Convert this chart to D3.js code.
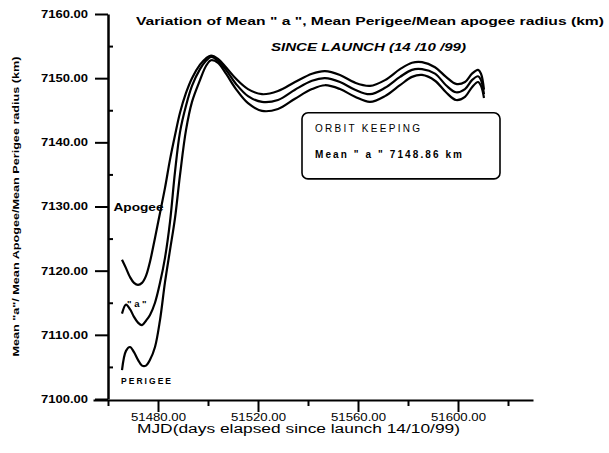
<!DOCTYPE html>
<html>
<head>
<meta charset="utf-8">
<script src="https://cdn.jsdelivr.net/npm/d3@7"></script>
<style>
  body { margin: 0; background: #fff; }
  svg { display: block; font-family: "Liberation Sans", Arial, sans-serif; }
</style>
</head>
<body>
<div id="chart"></div>
<script>
// MJD sample points
const mjd = [51465.6, 51467.2, 51468.8, 51470.4, 51472.0, 51473.6, 51475.2, 51476.8, 51478.8, 51480.8,
  51482.8, 51484.8, 51486.8, 51488.8, 51491.2, 51493.6, 51496.8, 51499.2, 51501.2, 51504.0,
  51507.2, 51511.2, 51516.0, 51521.6, 51528.0, 51534.8, 51541.6, 51546.8, 51552.8, 51558.8,
  51564.8, 51570.8, 51576.8, 51581.6, 51585.6, 51590.8, 51595.2, 51599.2, 51602.8, 51605.6,
  51608.0, 51609.2, 51610.4];

const apogee = [7121.7, 7120.4, 7119.0, 7118.1, 7117.8, 7118.1, 7119.2, 7121.4, 7125.1, 7129.0,
  7132.9, 7137.3, 7141.1, 7144.6, 7147.7, 7150.0, 7152.1, 7153.1, 7153.5, 7153.0,
  7151.7, 7149.9, 7148.3, 7147.5, 7148.0, 7149.4, 7150.7, 7151.1, 7150.5, 7149.3,
  7148.8, 7149.7, 7151.4, 7152.4, 7152.5, 7151.7, 7150.2, 7149.1, 7149.4, 7150.7,
  7151.3, 7150.7, 7148.2];

const meanA = [7113.3, 7114.7, 7114.0, 7112.8, 7111.9, 7111.5, 7112.2, 7113.1, 7115.0, 7118.1,
  7122.0, 7127.6, 7135.4, 7141.6, 7145.7, 7148.8, 7151.4, 7152.7, 7153.3, 7152.7,
  7151.3, 7149.1, 7147.2, 7146.3, 7146.6, 7148.2, 7149.6, 7150.0, 7149.4, 7148.2,
  7147.5, 7148.5, 7150.2, 7151.3, 7151.4, 7150.7, 7148.9, 7147.8, 7148.3, 7149.7,
  7150.3, 7149.7, 7147.5];

const perigee = [7104.5, 7107.5, 7108.1, 7107.3, 7106.1, 7105.2, 7105.2, 7106.1, 7108.1, 7112.3,
  7118.2, 7123.2, 7128.2, 7134.9, 7141.9, 7146.3, 7149.7, 7151.9, 7152.8, 7152.4,
  7150.7, 7148.3, 7146.1, 7144.9, 7145.2, 7146.8, 7148.3, 7148.9, 7148.3, 7147.1,
  7146.3, 7147.2, 7148.9, 7150.2, 7150.5, 7149.6, 7147.8, 7146.6, 7147.1, 7148.6,
  7149.4, 7148.8, 7146.9];

const yTicks = [7100, 7110, 7120, 7130, 7140, 7150, 7160];
const yMinor = [7105, 7115, 7125, 7135, 7145, 7155];
const xTicks = [51480, 51520, 51560, 51600];
const xMinor = [51460, 51500, 51540, 51580, 51620];

const width = 609;
const height = 453;

const svg = d3.select('#chart')
    .append('svg')
    .attr('width', width)
    .attr('height', height);

const x = d3.scaleLinear().domain([51454, 51630]).range([93, 533]);
const y = d3.scaleLinear().domain([7100, 7160]).range([399, 14]);

// Y axis
const yAxis = svg.append('g')
    .attr('transform', `translate(${x(51460)},0)`)
    .call(d3.axisLeft(y).tickValues(yTicks).tickSize(13).tickSizeOuter(0)
        .tickFormat(d3.format('.2f')));
yAxis.select('.domain').attr('stroke-width', 2.5);
yAxis.selectAll('.tick line').attr('stroke-width', 2);
yAxis.selectAll('.tick text')
    .attr('x', -20)
    .attr('textLength', 47)
    .attr('lengthAdjust', 'spacingAndGlyphs')
    .style('font-size', '10.5px')
    .style('font-weight', 'bold')
    .style('font-family', '"Liberation Sans", Arial, sans-serif');

svg.append('g')
    .attr('transform', `translate(${x(51460)},0)`)
    .call(d3.axisRight(y).tickValues(yMinor).tickSize(5).tickFormat(''))
    .call(g => g.select('.domain').remove())
    .selectAll('.tick line').attr('stroke-width', 2);

// X axis
const xAxis = svg.append('g')
    .attr('transform', `translate(0,${y(7100) + 1})`)
    .call(d3.axisBottom(x).tickValues(xTicks).tickSize(12).tickSizeOuter(0)
        .tickFormat(d3.format('.2f')));
xAxis.select('.domain').attr('stroke-width', 2);
xAxis.selectAll('.tick line').attr('stroke-width', 2);
xAxis.selectAll('.tick text')
    .attr('y', 14)
    .attr('textLength', 55)
    .attr('lengthAdjust', 'spacingAndGlyphs')
    .style('font-size', '10.5px')
    .style('font-family', '"Liberation Sans", Arial, sans-serif');

svg.append('g')
    .attr('transform', `translate(0,${y(7100) + 1})`)
    .call(d3.axisBottom(x).tickValues(xMinor).tickSize(6).tickFormat(''))
    .call(g => g.select('.domain').remove())
    .selectAll('.tick line').attr('stroke-width', 2);

// Curves
const line = d3.line()
    .x((d, i) => x(mjd[i]))
    .y(d => y(d))
    .curve(d3.curveCatmullRom.alpha(0.5));

[apogee, meanA, perigee].forEach(series => {
  svg.append('path')
      .datum(series)
      .attr('d', line)
      .attr('fill', 'none')
      .attr('stroke', '#000')
      .attr('stroke-width', 2.2);
});

// Curve labels
svg.append('text')
    .attr('x', x(51462.2))
    .attr('y', y(7129.3))
    .attr('textLength', 50)
    .attr('lengthAdjust', 'spacingAndGlyphs')
    .style('font-size', '10.5px')
    .style('font-weight', 'bold')
    .text('Apogee');

svg.append('text')
    .attr('x', x(51467.6))
    .attr('y', y(7114.3))
    .style('font-size', '9.5px')
    .style('font-weight', 'bold')
    .text('" a "');

svg.append('text')
    .attr('x', x(51465.2))
    .attr('y', y(7102.4))
    .style('font-size', '8.5px')
    .style('font-weight', 'bold')
    .attr('textLength', 50)
    .text('PERIGEE');

// Titles
svg.append('text')
    .attr('x', 136)
    .attr('y', 25)
    .attr('textLength', 468)
    .attr('lengthAdjust', 'spacingAndGlyphs')
    .style('font-size', '11px')
    .style('font-weight', 'bold')
    .text('Variation of  Mean  " a  ", Mean Perigee/Mean apogee radius (km)');

svg.append('text')
    .attr('x', 271)
    .attr('y', 51)
    .attr('textLength', 195)
    .attr('lengthAdjust', 'spacingAndGlyphs')
    .style('font-size', '11px')
    .style('font-weight', 'bold')
    .style('font-style', 'italic')
    .text('SINCE LAUNCH (14 /10 /99)');

// Axis titles
svg.append('text')
    .attr('transform', `translate(19,${y(7130)}) rotate(-90)`)
    .attr('text-anchor', 'middle')
    .attr('textLength', 300)
    .attr('lengthAdjust', 'spacingAndGlyphs')
    .style('font-size', '9px')
    .style('font-weight', 'bold')
    .text('Mean "a"/ Mean Apogee/Mean Perigee radius (km)');

svg.append('text')
    .attr('x', 137)
    .attr('y', 433)
    .attr('textLength', 323)
    .attr('lengthAdjust', 'spacingAndGlyphs')
    .style('font-size', '12px')
    .text('MJD(days elapsed since launch 14/10/99)');

// Orbit keeping box
const bx0 = x(51537.6), bx1 = x(51616.8);
const by0 = y(7144.6), by1 = y(7134.3);
svg.append('rect')
    .attr('x', bx0)
    .attr('y', by0)
    .attr('width', bx1 - bx0)
    .attr('height', by1 - by0)
    .attr('rx', 6)
    .attr('fill', '#fff')
    .attr('stroke', '#000')
    .attr('stroke-width', 1.6);

svg.append('text')
    .attr('x', bx0 + 13)
    .attr('y', by0 + 19)
    .attr('textLength', 105)
    .style('font-size', '10px')
    .text('ORBIT KEEPING');

svg.append('text')
    .attr('x', bx0 + 13)
    .attr('y', by0 + 45)
    .attr('textLength', 147)
    .style('font-size', '10px')
    .style('font-weight', 'bold')
    .text('Mean " a  "  7148.86 km');
</script>
</body>
</html>
